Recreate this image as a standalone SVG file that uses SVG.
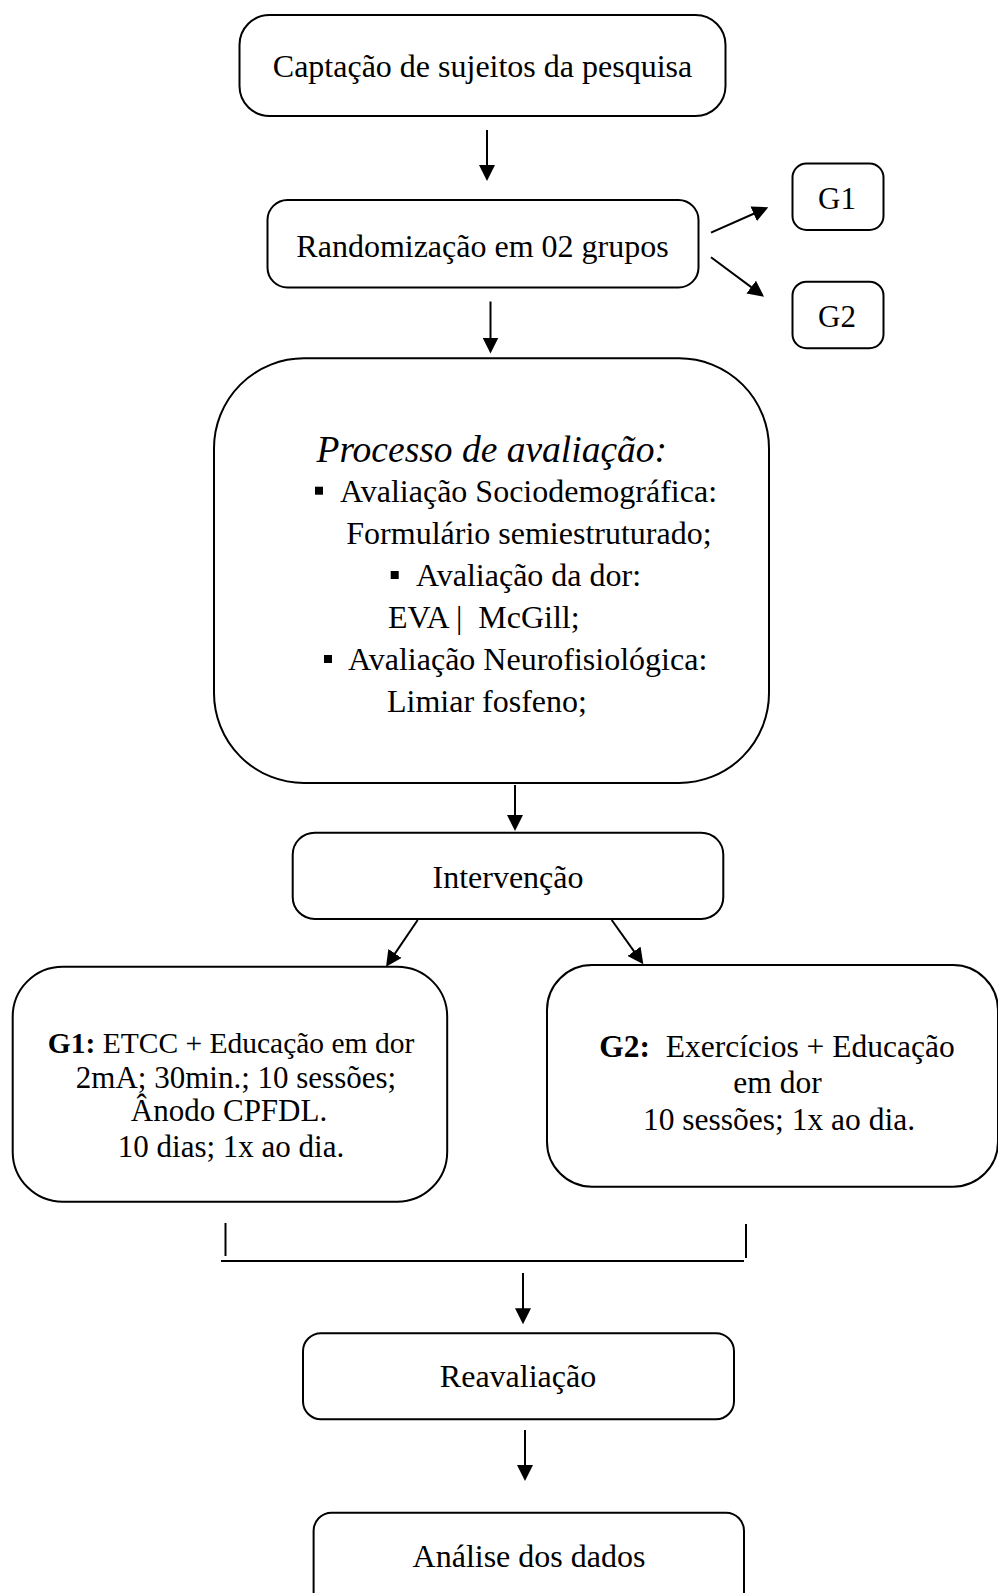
<svg xmlns="http://www.w3.org/2000/svg" width="998" height="1593" viewBox="0 0 998 1593">
<defs>
<style>
.box{fill:#fff;stroke:#000;stroke-width:2}
.con{fill:none;stroke:#000;stroke-width:2}
.arr{marker-end:url(#ah)}
text{font-family:"Liberation Serif","Times New Roman",serif;fill:#000}
.t32{font-size:32px}
.t31{font-size:31px}
.t315{font-size:31.5px}
.c{text-anchor:middle}
.b{font-weight:bold}
</style>
<marker id="ah" viewBox="0 0 16 16" refX="8" refY="8" markerWidth="16" markerHeight="16" markerUnits="userSpaceOnUse" orient="auto">
<path d="M0,0 L16,8 L0,16 z" fill="#000"/>
</marker>
</defs>
<rect width="998" height="1593" fill="#fff"/>

<g id="connectors">
<line class="con arr" x1="487" y1="130" x2="487" y2="173"/>
<line class="con arr" x1="711" y1="232.7" x2="761" y2="210.5"/>
<line class="con arr" x1="711" y1="257.3" x2="757.6" y2="291.9"/>
<line class="con arr" x1="490.5" y1="301.5" x2="490.5" y2="345.5"/>
<line class="con arr" x1="515" y1="785" x2="515" y2="823"/>
<line class="con arr" x1="417.7" y1="920" x2="390.5" y2="960.1"/>
<line class="con arr" x1="611.7" y1="920" x2="638.7" y2="957.8"/>
<line class="con" x1="225.5" y1="1223" x2="225.5" y2="1256"/>
<line class="con" x1="221" y1="1261" x2="744" y2="1261"/>
<line class="con" x1="746" y1="1224" x2="746" y2="1258"/>
<line class="con arr" x1="523" y1="1273" x2="523" y2="1316.3"/>
<line class="con arr" x1="525" y1="1430" x2="525" y2="1473"/>
</g>

<g id="n-captacao">
<rect class="box" x="239.5" y="15" width="486" height="101" rx="30"/>
<text class="t32 c" x="482.5" y="77.3">Captação de sujeitos da pesquisa</text>
</g>

<g id="n-randomizacao">
<rect class="box" x="267.5" y="200" width="431" height="87.5" rx="20"/>
<text class="t32 c" x="482.5" y="256.7">Randomização em 02 grupos</text>
</g>

<g id="n-g1">
<rect class="box" x="792.5" y="163.5" width="91" height="66.5" rx="14"/>
<text class="t31 c" x="837" y="209.3">G1</text>
</g>

<g id="n-g2">
<rect class="box" x="792.5" y="281.7" width="91" height="66.5" rx="14"/>
<text class="t31 c" x="837" y="326.7">G2</text>
</g>

<g id="n-avaliacao">
<rect class="box" x="214" y="358.3" width="555" height="424.7" rx="90"/>
<text x="316.5" y="462" style="font-size:37.5px;font-style:italic">Processo de avaliação:</text>
<rect x="315" y="486.7" width="8" height="8" fill="#000"/>
<text class="t32" x="340" y="501.7">Avaliação Sociodemográfica:</text>
<text class="t32" x="346.3" y="543.5">Formulário semiestruturado;</text>
<rect x="390.7" y="571" width="8" height="8" fill="#000"/>
<text class="t32" x="416" y="586">Avaliação da dor:</text>
<text class="t32" x="388" y="628.3">EVA |&#160; McGill;</text>
<rect x="324" y="655" width="8" height="8" fill="#000"/>
<text class="t32" x="348" y="670">Avaliação Neurofisiológica:</text>
<text class="t32" x="387" y="712.3">Limiar fosfeno;</text>
</g>

<g id="n-intervencao">
<rect class="box" x="292.7" y="832.7" width="430.6" height="86.3" rx="22"/>
<text class="t32 c" x="508" y="888.3">Intervenção</text>
</g>

<g id="n-g1-detail">
<rect class="box" x="12.7" y="966.7" width="434.5" height="235" rx="50"/>
<text class="c" x="231" y="1053" style="font-size:29.5px"><tspan class="b">G1:</tspan> ETCC + Educação em dor</text>
<text class="t31 c" x="236" y="1088">2mA; 30min.; 10 sessões;</text>
<text class="t31 c" x="229" y="1121">Ânodo CPFDL.</text>
<text class="t31 c" x="231" y="1157">10 dias; 1x ao dia.</text>
</g>

<g id="n-g2-detail">
<rect class="box" x="547" y="965" width="451" height="221.7" rx="45"/>
<text class="t315 c" x="777" y="1057"><tspan class="b">G2:</tspan>&#160; Exercícios + Educação</text>
<text class="t315 c" x="777.5" y="1093">em dor</text>
<text class="t315 c" x="779" y="1130">10 sessões; 1x ao dia.</text>
</g>

<g id="n-reavaliacao">
<rect class="box" x="303" y="1333.3" width="431" height="86" rx="18"/>
<text class="t32 c" x="518" y="1386.7">Reavaliação</text>
</g>

<g id="n-analise">
<rect class="box" x="313.6" y="1512.7" width="430.4" height="100" rx="18"/>
<text class="t32 c" x="529" y="1566.7">Análise dos dados</text>
</g>
</svg>
